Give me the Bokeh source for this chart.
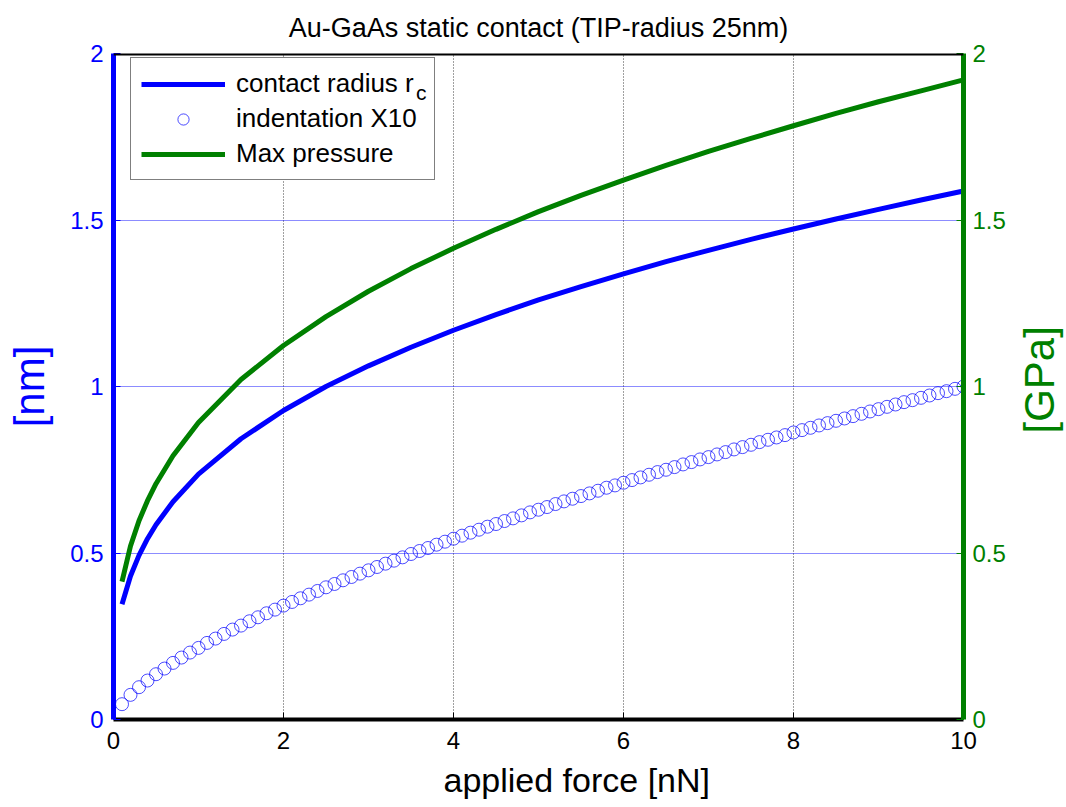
import math
from bokeh.plotting import figure
from bokeh.layouts import row
from bokeh.models import (Range1d, LinearAxis, FixedTicker, Legend, LegendItem,
                          Span, Title)
from bokeh.core.properties import value
from bokeh.embed import file_html
from bokeh.resources import INLINE

# ---------------- data ----------------
force_circ = [round(0.1 * k, 1) for k in range(1, 101)]
indentation_x10 = [
    0.046, 0.074, 0.097, 0.117, 0.136, 0.153, 0.170, 0.186, 0.201, 0.215,
    0.230, 0.243, 0.257, 0.270, 0.282, 0.295, 0.307, 0.319, 0.330, 0.342,
    0.353, 0.364, 0.375, 0.386, 0.397, 0.407, 0.418, 0.428, 0.438, 0.448,
    0.458, 0.468, 0.477, 0.487, 0.497, 0.506, 0.515, 0.525, 0.534, 0.543,
    0.552, 0.561, 0.570, 0.579, 0.587, 0.596, 0.604, 0.613, 0.622, 0.630,
    0.638, 0.647, 0.655, 0.663, 0.671, 0.679, 0.687, 0.696, 0.703, 0.711,
    0.719, 0.727, 0.735, 0.743, 0.750, 0.758, 0.766, 0.773, 0.781, 0.788,
    0.796, 0.803, 0.811, 0.818, 0.825, 0.833, 0.840, 0.847, 0.854, 0.862,
    0.869, 0.876, 0.883, 0.890, 0.897, 0.904, 0.911, 0.918, 0.925, 0.932,
    0.939, 0.946, 0.953, 0.959, 0.966, 0.973, 0.980, 0.986, 0.993, 1.000,
]

force_line = [0.1, 0.2, 0.3, 0.4, 0.5, 0.7, 1.0, 1.5, 2.0, 2.5, 3.0, 3.5, 4.0,
              4.5, 5.0, 5.5, 6.0, 6.5, 7.0, 7.5, 8.0, 8.5, 9.0, 9.5, 10.0]
contact_radius = [0.346, 0.431, 0.493, 0.543, 0.585, 0.654, 0.737, 0.843, 0.928,
                  1.000, 1.062, 1.118, 1.169, 1.216, 1.260, 1.300, 1.338, 1.375,
                  1.409, 1.442, 1.473, 1.503, 1.532, 1.560, 1.587]
max_pressure = [0.414, 0.521, 0.597, 0.657, 0.708, 0.792, 0.892, 1.021, 1.123,
                1.210, 1.286, 1.354, 1.415, 1.472, 1.525, 1.574, 1.620, 1.664,
                1.706, 1.745, 1.783, 1.820, 1.855, 1.888, 1.921]

x_ticks = [0, 2, 4, 6, 8, 10]
y_ticks = [0, 0.5, 1, 1.5, 2]
y_tick_labels = {0: "0", 0.5: "0.5", 1: "1", 1.5: "1.5", 2: "2"}

FONT = "Liberation Sans"
BLUE = "#0000ff"
GREEN = "#008000"

p = figure(width=1016, height=807, output_backend="svg", toolbar_location=None,
           x_range=Range1d(0, 10), y_range=Range1d(0, 2),
           min_border_left=113, min_border_right=53,
           min_border_top=52, min_border_bottom=88,
           title="Au-GaAs static contact (TIP-radius 25nm)")
p.extra_y_ranges = {"gpa": Range1d(0, 2)}
p.outline_line_color = None
p.background_fill_color = "white"
p.border_fill_color = "white"

p.title.align = "center"
p.title.text_font = FONT
p.title.text_font_size = "27px"
p.title.text_font_style = "normal"
p.title.text_color = "black"
p.title.standoff = 21

# grids
p.xgrid.ticker = FixedTicker(ticks=x_ticks)
p.xgrid.grid_line_color = "black"
p.xgrid.grid_line_alpha = 0.75
p.xgrid.grid_line_dash = "1 2"
p.xgrid.grid_line_width = 1
p.ygrid.ticker = FixedTicker(ticks=y_ticks)
p.ygrid.grid_line_color = BLUE
p.ygrid.grid_line_alpha = 0.9
p.ygrid.grid_line_dash = "1 1"
p.ygrid.grid_line_width = 1

# x axis
xa = p.xaxis[0]
xa.ticker = FixedTicker(ticks=x_ticks)
xa.major_label_text_font = FONT
xa.major_label_text_font_size = "24px"
xa.major_label_text_color = "black"
xa.major_label_standoff = 12
xa.axis_line_color = "black"
xa.axis_line_width = 4
xa.major_tick_in = 7
xa.major_tick_out = 0
xa.major_tick_line_color = "black"
xa.minor_tick_line_color = None

# x axis title, placed off-centre as in the reference
xt = Title(text="applied force [nN]", align="left", offset=330, standoff=15,
           text_font=FONT, text_font_size="34px", text_font_style="normal",
           text_color="black")
p.add_layout(xt, "below")

# left axis
ya = p.yaxis[0]
ya.ticker = FixedTicker(ticks=y_ticks)
ya.major_label_overrides = y_tick_labels
ya.axis_label = "[nm]"
ya.axis_label_text_font = FONT
ya.axis_label_text_font_size = "42px"
ya.axis_label_text_font_style = "normal"
ya.axis_label_text_color = BLUE
ya.axis_label_standoff = 14
ya.major_label_text_font = FONT
ya.major_label_text_font_size = "24px"
ya.major_label_text_color = BLUE
ya.major_label_standoff = 10
ya.axis_line_color = BLUE
ya.axis_line_width = 5
ya.major_tick_in = 7
ya.major_tick_out = 0
ya.major_tick_line_color = BLUE
ya.minor_tick_line_color = None

# right axis (ticks and tick labels; its title is drawn in the strip beside it)
ra = LinearAxis(y_range_name="gpa", ticker=FixedTicker(ticks=y_ticks))
ra.major_label_overrides = y_tick_labels
ra.major_label_text_font = FONT
ra.major_label_text_font_size = "24px"
ra.major_label_text_color = GREEN
ra.major_label_standoff = 9
ra.axis_line_color = GREEN
ra.axis_line_width = 5
ra.major_tick_in = 7
ra.major_tick_out = 0
ra.major_tick_line_color = GREEN
ra.minor_tick_line_color = None
p.add_layout(ra, "right")

# top border
p.add_layout(Span(location=2, dimension="width", line_color="black", line_width=4))

# data
r_rc = p.line(force_line, contact_radius, line_color=BLUE, line_width=5)
r_ind = p.scatter(force_circ, indentation_x10, marker="circle", size=13,
                  fill_color=None, line_color=BLUE, line_alpha=0.7, line_width=1)
r_p = p.line(force_line, max_pressure, line_color=GREEN, line_width=5,
             y_range_name="gpa")

legend = Legend(items=[
    LegendItem(label="contact radius r", renderers=[r_rc]),
    LegendItem(label="indentation X10", renderers=[r_ind]),
    LegendItem(label="Max pressure", renderers=[r_p]),
], location=(17, 539))
legend.label_text_font = FONT
legend.label_text_font_size = "26px"
legend.label_text_color = "black"
legend.glyph_width = 84
legend.glyph_height = 28
legend.label_height = 28
legend.label_width = 188
legend.label_standoff = 11
legend.spacing = 4
legend.padding = 10
legend.margin = 0
legend.border_line_color = "black"
legend.border_line_width = 1
legend.background_fill_color = "white"
legend.background_fill_alpha = 1
p.add_layout(legend, "center")

# subscript "c" of r_c, drawn as a tiny second legend on top of the first
r_sub = p.scatter([], [], marker="circle", size=1, fill_alpha=0, line_alpha=0)
sub = Legend(items=[LegendItem(label="c", renderers=[r_sub])], location=(303, 614))
sub.label_text_font = FONT
sub.label_text_font_size = "21px"
sub.label_text_color = "black"
sub.glyph_width = 0
sub.glyph_height = 18
sub.label_height = 18
sub.label_standoff = 0
sub.padding = 0
sub.margin = 0
sub.border_line_color = None
sub.background_fill_alpha = 0
p.add_layout(sub, "center")

# strip on the right carrying the right-axis title, reading bottom to top
p2 = figure(width=50, height=807, output_backend="svg", toolbar_location=None,
            x_range=Range1d(0, 1), y_range=Range1d(0, 1),
            x_axis_type=None, y_axis_type=None,
            min_border_left=0, min_border_right=0, min_border_top=0,
            min_border_bottom=0)
p2.outline_line_color = None
p2.grid.visible = False
p2.text(x=[0.46], y=[0.510], text=["[GPa]"], angle=math.pi / 2,
        text_align="center", text_baseline="middle", text_font=value(FONT),
        text_font_size="42px", text_color=GREEN)

layout = row(p, p2, spacing=0)
open("out.html", "w").write(file_html(layout, INLINE))
